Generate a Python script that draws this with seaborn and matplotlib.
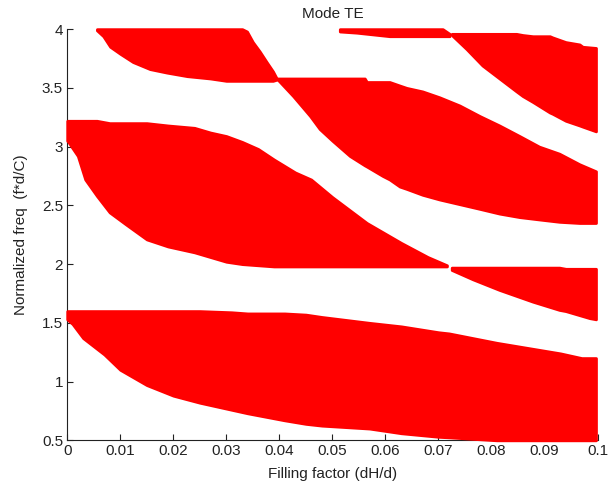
import matplotlib
matplotlib.use("Agg")
import matplotlib.pyplot as plt
import seaborn as sns
import numpy as np

# ---- data (band edges in normalized freq) ----
b1_x  = [0, 0.001, 0.003, 0.007, 0.010, 0.015, 0.020, 0.025, 0.031, 0.034, 0.041, 0.045, 0.048, 0.057, 0.063, 0.070, 0.072, 0.081, 0.093, 0.097, 0.0997]
b1_lo = [1.53, 1.49, 1.37, 1.23, 1.10, 0.97, 0.88, 0.82, 0.76, 0.73, 0.67, 0.64, 0.625, 0.60, 0.56, 0.53, 0.525, 0.50, 0.48, 0.48, 0.48]
b1_hi = [1.60, 1.60, 1.60, 1.60, 1.60, 1.60, 1.60, 1.60, 1.59, 1.58, 1.58, 1.57, 1.55, 1.50, 1.47, 1.42, 1.41, 1.33, 1.24, 1.20, 1.20]

b2_x  = [0, 0.0002, 0.002, 0.0034, 0.0056, 0.008, 0.011, 0.015, 0.019, 0.024, 0.027, 0.030, 0.033, 0.036, 0.039, 0.043, 0.046, 0.050, 0.0565, 0.063, 0.068, 0.0716]
b2_lo = [3.05, 3.04, 2.92, 2.72, 2.58, 2.44, 2.34, 2.21, 2.15, 2.10, 2.06, 2.02, 2.00, 1.99, 1.98, 1.98, 1.98, 1.98, 1.98, 1.98, 1.98, 1.98]
b2_hi = [3.22, 3.22, 3.22, 3.22, 3.22, 3.20, 3.20, 3.20, 3.18, 3.16, 3.12, 3.09, 3.04, 2.98, 2.89, 2.78, 2.72, 2.57, 2.35, 2.18, 2.06, 1.99]

b3_x  = [0.0725, 0.0765, 0.0815, 0.0878, 0.0928, 0.094, 0.0985, 0.0997]
b3_lo = [1.95, 1.87, 1.78, 1.68, 1.61, 1.60, 1.54, 1.53]
b3_hi = [1.97, 1.97, 1.97, 1.97, 1.97, 1.96, 1.96, 1.96]

b4_x  = [0.0397, 0.0426, 0.0458, 0.0476, 0.050, 0.0533, 0.0561, 0.0565, 0.0595, 0.0608, 0.0627, 0.064, 0.067, 0.0702, 0.074, 0.0778, 0.0815, 0.0853, 0.089, 0.0928, 0.0966, 0.0997]
b4_lo = [3.57, 3.43, 3.26, 3.15, 3.05, 2.92, 2.84, 2.83, 2.75, 2.72, 2.66, 2.64, 2.59, 2.55, 2.51, 2.47, 2.43, 2.40, 2.38, 2.36, 2.35, 2.35]
b4_hi = [3.58, 3.58, 3.58, 3.58, 3.58, 3.58, 3.58, 3.55, 3.55, 3.55, 3.52, 3.50, 3.47, 3.42, 3.35, 3.26, 3.18, 3.09, 3.00, 2.94, 2.85, 2.79]

b5_x  = [0.0056, 0.0068, 0.0081, 0.010, 0.0124, 0.0156, 0.0188, 0.0226, 0.027, 0.030, 0.033, 0.0339, 0.035, 0.0363, 0.0376, 0.0388, 0.0395]
b5_lo = [3.99, 3.94, 3.85, 3.79, 3.72, 3.66, 3.63, 3.60, 3.58, 3.56, 3.56, 3.56, 3.56, 3.56, 3.56, 3.56, 3.57]
b5_hi = [4.00, 4.00, 4.00, 4.00, 4.00, 4.00, 4.00, 4.00, 4.00, 4.00, 4.00, 3.98, 3.89, 3.81, 3.72, 3.64, 3.58]

b6_x  = [0.0514, 0.0546, 0.0608, 0.0708, 0.0721]
b6_lo = [3.98, 3.97, 3.94, 3.94, 3.94]
b6_hi = [4.01, 4.01, 4.01, 4.01, 3.96]

b7_x  = [0.0725, 0.0753, 0.0783, 0.0815, 0.0847, 0.0859, 0.0878, 0.091, 0.0915, 0.094, 0.0966, 0.0972, 0.0997]
b7_lo = [3.95, 3.83, 3.69, 3.58, 3.47, 3.43, 3.38, 3.29, 3.28, 3.22, 3.18, 3.17, 3.13]
b7_hi = [3.96, 3.96, 3.96, 3.96, 3.96, 3.95, 3.94, 3.94, 3.93, 3.89, 3.87, 3.85, 3.84]

x_ticks = [0, 0.01, 0.02, 0.03, 0.04, 0.05, 0.06, 0.07, 0.08, 0.09, 0.1]
x_tick_labels = ["0", "0.01", "0.02", "0.03", "0.04", "0.05", "0.06", "0.07", "0.08", "0.09", "0.1"]
y_ticks = [0.5, 1, 1.5, 2, 2.5, 3, 3.5, 4]
y_tick_labels = ["0.5", "1", "1.5", "2", "2.5", "3", "3.5", "4"]

sns.set_style("white")
plt.rcParams['font.family'] = ['Liberation Sans Narrow', 'Liberation Sans', 'DejaVu Sans']

fig = plt.figure(figsize=(6.11, 4.86), dpi=100)
ax = fig.add_axes([0.110, 0.094, 0.868, 0.846])

bands = [(b1_x, b1_lo, b1_hi), (b2_x, b2_lo, b2_hi), (b3_x, b3_lo, b3_hi),
         (b4_x, b4_lo, b4_hi), (b5_x, b5_lo, b5_hi), (b6_x, b6_lo, b6_hi),
         (b7_x, b7_lo, b7_hi)]
red = "#ff0000"
for bx, lo, hi in bands:
    lo_c = np.maximum(lo, 0.5)
    hi_c = np.minimum(hi, 4.0)
    ax.fill_between(bx, lo_c, hi_c, color=red, edgecolor=red, linewidth=2.0,
                    zorder=3, clip_on=False)

ax.set_xlim(0, 0.1)
ax.set_ylim(0.5, 4)
ax.set_xticks(x_ticks)
ax.set_xticklabels(x_tick_labels)
ax.set_yticks(y_ticks)
ax.set_yticklabels(y_tick_labels)
ax.tick_params(direction="in", length=4, width=0.8, labelsize=11, colors="#222222",
               pad=3, bottom=True, left=True)
for s in ["top", "right"]:
    ax.spines[s].set_visible(False)
for s in ["left", "bottom"]:
    ax.spines[s].set_color("#222222")
    ax.spines[s].set_linewidth(0.8)

ax.set_title("Mode TE", fontsize=11, pad=8, color="#222222")
ax.set_xlabel("Filling factor (dH/d)", fontsize=11, labelpad=6, color="#222222")
ax.set_ylabel("Normalized freq  (f*d/C)", fontsize=11, labelpad=10, color="#222222")

fig.savefig("out.png", dpi=100)
